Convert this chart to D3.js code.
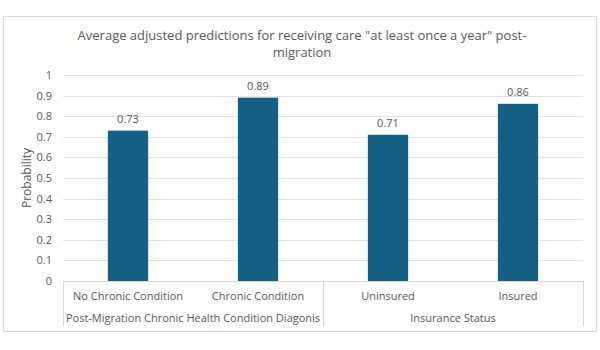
<!DOCTYPE html>
<html lang="en">
<head>
<meta charset="UTF-8">
<title>Average adjusted predictions</title>
<script src="https://d3js.org/d3.v7.min.js"></script>
<style>
    body { margin: 0; background: #fff; }
    svg text { font-family: "Open Sans", Roboto, sans-serif; fill: #595959; }
</style>
</head>
<body>
<div id="chart"></div>
<script>
    const categories = ["No Chronic Condition", "Chronic Condition", "Uninsured", "Insured"];
    const values = [0.73, 0.89, 0.71, 0.86];
    const groups = ["Post-Migration Chronic Health Condition Diagonis", "Insurance Status"];
    const groupSizes = [2, 2];
    const yTicks = [0, 0.1, 0.2, 0.3, 0.4, 0.5, 0.6, 0.7, 0.8, 0.9, 1];
    const titleLines = ["Average adjusted predictions for receiving care \"at least once a year\" post-", "migration"];

    const width = 600, height = 350;
    const plot = { left: 63, right: 583, top: 75, bottom: 281 };

    const svg = d3.select("#chart").append("svg")
        .attr("width", width)
        .attr("height", height);

    // chart frame
    svg.append("rect")
        .attr("x", 3.5).attr("y", 16.5)
        .attr("width", 593).attr("height", 315)
        .attr("fill", "#fff")
        .attr("stroke", "#d9d9d9");

    svg.append("text")
        .attr("x", 302)
        .attr("text-anchor", "middle")
        .style("font-size", "13px")
        .selectAll("tspan")
        .data(titleLines)
        .join("tspan")
        .attr("x", 302)
        .attr("y", (d, i) => 40 + i * 17)
        .text(d => d);

    const x = d3.scaleBand()
        .domain(categories)
        .range([plot.left, plot.right]);

    const y = d3.scaleLinear()
        .domain([0, 1])
        .range([plot.bottom, plot.top]);

    // gridlines
    svg.append("g")
        .selectAll("line")
        .data(yTicks.filter(d => d > 0))
        .join("line")
        .attr("x1", plot.left).attr("x2", plot.right)
        .attr("y1", d => Math.round(y(d)) + 0.5)
        .attr("y2", d => Math.round(y(d)) + 0.5)
        .attr("stroke", "#e3e3e3");

    // y axis labels
    const yAxis = svg.append("g")
        .attr("transform", `translate(${plot.left},0)`)
        .call(d3.axisLeft(y).tickValues(yTicks).tickSize(0).tickPadding(11).tickFormat(d3.format("~g")));
    yAxis.select(".domain").remove();
    yAxis.selectAll("text").style("font-size", "11px").style("font-family", "\"Open Sans\", Roboto, sans-serif").attr("fill", "#595959");

    svg.append("text")
        .attr("transform", `translate(31,${(plot.top + plot.bottom) / 2}) rotate(-90)`)
        .attr("text-anchor", "middle")
        .style("font-size", "12px")
        .text("Probability");

    // bars
    const barW = x.bandwidth() * 0.31;
    svg.append("g")
        .selectAll("rect")
        .data(values)
        .join("rect")
        .attr("x", (d, i) => x(categories[i]) + (x.bandwidth() - barW) / 2)
        .attr("y", d => y(d))
        .attr("width", barW)
        .attr("height", d => y(0) - y(d))
        .attr("fill", "#156082");

    svg.append("g")
        .selectAll("text")
        .data(values)
        .join("text")
        .attr("x", (d, i) => x(categories[i]) + x.bandwidth() / 2)
        .attr("y", d => y(d) - 8)
        .attr("text-anchor", "middle")
        .style("font-size", "11px")
        .text(d => d.toFixed(2));

    // category axis with grouped labels
    const axisG = svg.append("g").attr("stroke", "#d9d9d9").attr("fill", "none");
    axisG.append("line")
        .attr("x1", plot.left).attr("x2", plot.right)
        .attr("y1", plot.bottom + 0.5).attr("y2", plot.bottom + 0.5);

    let idx = 0;
    const bounds = [plot.left];
    groupSizes.forEach(n => {
        idx += n;
        bounds.push(idx < categories.length ? x(categories[idx]) : plot.right);
    });
    axisG.selectAll(".sep")
        .data(bounds)
        .join("line")
        .attr("x1", d => Math.round(d) + 0.5).attr("x2", d => Math.round(d) + 0.5)
        .attr("y1", plot.bottom).attr("y2", 326);

    svg.append("g")
        .selectAll("text")
        .data(categories)
        .join("text")
        .attr("x", d => x(d) + x.bandwidth() / 2)
        .attr("y", 300)
        .attr("text-anchor", "middle")
        .style("font-size", "11px")
        .text(d => d);

    svg.append("g")
        .selectAll("text")
        .data(groups)
        .join("text")
        .attr("x", (d, i) => (bounds[i] + bounds[i + 1]) / 2)
        .attr("y", 322)
        .attr("text-anchor", "middle")
        .style("font-size", "11px")
        .text(d => d);
</script>
</body>
</html>
